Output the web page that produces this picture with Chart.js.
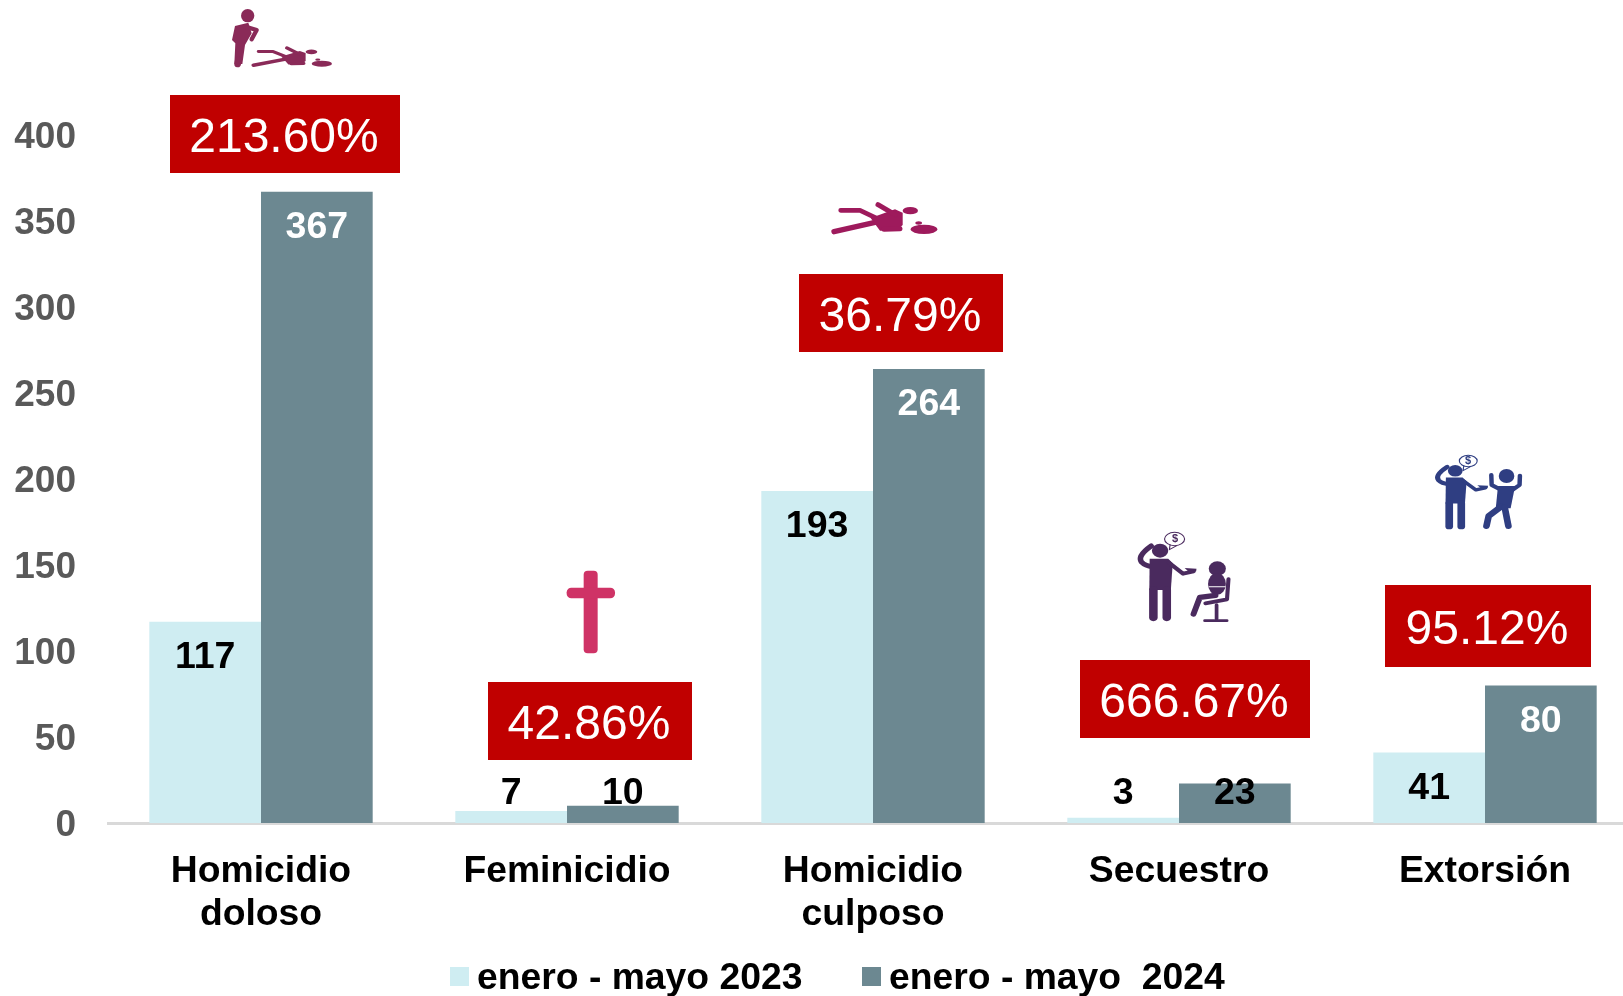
<!DOCTYPE html>
<html lang="es">
<head>
<meta charset="utf-8">
<title>Delitos enero - mayo</title>
<script src="https://cdn.jsdelivr.net/npm/chart.js@4"></script>
<style>
html,body{margin:0;padding:0;background:#fff;overflow:hidden;width:1623px;height:996px}
#wrap{width:1623px;height:996px;overflow:hidden;position:relative}
canvas{display:block}
</style>
</head>
<body>
<div id="wrap"><canvas id="c" width="1640" height="996"></canvas></div>
<script>
// ---- data ----
const categories = [["Homicidio","doloso"],["Feminicidio"],["Homicidio","culposo"],["Secuestro"],["Extorsión"]];
const seriesNames = ["enero - mayo 2023","enero - mayo  2024"];
const values2023 = [117,7,193,3,41];
const values2024 = [367,10,264,23,80];
const changeLabels = ["213.60%","42.86%","36.79%","666.67%","95.12%"];

// ---- styling / annotation layout (not data) ----
const FONT = '"Liberation Sans", Arial, sans-serif';
const colorLight = "#CFEDF2", colorDark = "#6C8891";
const labelColors2023 = ["#000","#000","#000","#000","#000"];
const labelColors2024 = ["#fff","#000","#fff","#000","#fff"];
const calloutBoxes = [[170,95,230,78],[488,682,204,78],[799,274,204,78],[1080,660,230,78],[1385,585,206,82]];
const legendLayout = [{box:450,text:477},{box:862,text:889}];

function value(chart){
  const ctx = chart.ctx;
  ctx.save();
  ctx.font = "bold 37.5px " + FONT;
  ctx.textAlign = "center";
  ctx.textBaseline = "middle";
  [[0,labelColors2023],[1,labelColors2024]].forEach(([d,cols])=>{
    chart.getDatasetMeta(d).data.forEach((bar,i)=>{
      ctx.fillStyle = cols[i];
      ctx.fillText(String(chart.data.datasets[d].data[i]), bar.x, Math.min(bar.y + 36, 794));
    });
  });
  ctx.restore();
}
function callouts(chart){
  const ctx = chart.ctx;
  ctx.save();
  calloutBoxes.forEach((b,i)=>{
    ctx.fillStyle = "#C00000";
    ctx.fillRect(b[0],b[1],b[2],b[3]);
    ctx.fillStyle = "#fff";
    ctx.font = "48px " + FONT;
    ctx.textAlign = "center";
    ctx.textBaseline = "middle";
    ctx.fillText(changeLabels[i], b[0]+b[2]/2-1, b[1]+b[3]/2+5);
  });
  ctx.restore();
}
function drawLegend(chart){
  const ctx = chart.ctx;
  ctx.save();
  ctx.font = "bold 37.3px " + FONT;
  ctx.textBaseline = "middle";
  ctx.textAlign = "left";
  chart.data.datasets.forEach((ds,i)=>{
    const l = legendLayout[i];
    ctx.fillStyle = ds.backgroundColor;
    ctx.fillRect(l.box,967,19,19);
    ctx.fillStyle = "#000";
    ctx.fillText(ds.label,l.text,979);
  });
  ctx.restore();
}
// ---- pictograms ----
function stroke(ctx,pts,w){
  ctx.lineWidth=w;ctx.lineCap="round";ctx.lineJoin="round";
  ctx.beginPath();pts.forEach((p,i)=>i?ctx.lineTo(p[0],p[1]):ctx.moveTo(p[0],p[1]));ctx.stroke();
}
function poly(ctx,pts){ctx.beginPath();pts.forEach((p,i)=>i?ctx.lineTo(p[0],p[1]):ctx.moveTo(p[0],p[1]));ctx.closePath();ctx.fill();}
function ell(ctx,x,y,rx,ry){ctx.beginPath();ctx.ellipse(x,y,rx,ry,0,0,7);ctx.fill();}
function lying(ctx){ // drawn in the coordinates of a 3x crop
  stroke(ctx,[[162,155],[325,118]],16);
  stroke(ctx,[[182,91],[240,91],[305,122]],14);
  poly(ctx,[[272,114],[345,88],[368,98],[368,135],[350,152],[300,152]]);
  stroke(ctx,[[294,74],[345,104]],15);
  stroke(ctx,[[312,148],[360,146]],15);
  ell(ctx,391,92,23,11);
  ell(ctx,432,148,40,14);
  ell(ctx,416,129,10,5);
}
function bubble(ctx,x,y,rx,ry,color){
  ctx.strokeStyle=color;ctx.lineWidth=3;ctx.lineCap="round";
  ctx.beginPath();ctx.ellipse(x,y,rx,ry,0,0,7);ctx.stroke();
  ctx.beginPath();ctx.moveTo(x-12,y+ry-3);ctx.lineTo(x-14,y+ry+12);ctx.lineTo(x+6,y+ry);ctx.stroke();
}
function man(ctx,x){ // standing man with phone and pistol
  ell(ctx,x,362,22,21);
  ctx.beginPath();ctx.lineWidth=15;ctx.lineCap="round";
  ctx.moveTo(x-24,348);ctx.quadraticCurveTo(x-62,378,x-50,396);ctx.quadraticCurveTo(x-40,408,x-20,410);ctx.stroke();
  poly(ctx,[[x-28,386],[x+22,386],[x+34,400],[x+29,480],[x-29,480]]);
  stroke(ctx,[[x-18,480],[x-18,562]],23);
  stroke(ctx,[[x+18,480],[x+18,562]],23);
  stroke(ctx,[[x+24,398],[x+62,431],[x+90,424]],12);
  poly(ctx,[[x+66,414],[x+98,416],[x+97,424],[x+80,428]]);
}
const iconsPlugin = {
  id:"annotations",
  afterDatasetsDraw(chart){
    const ctx = chart.ctx;
    value(chart);
    callouts(chart);
    drawLegend(chart);

    // Homicidio doloso
    ctx.save();
    ctx.scale(1/3,1/3);
    ctx.fillStyle=ctx.strokeStyle="#8A2A58";
    ell(ctx,743,47,20,20);
    poly(ctx,[[705,78],[745,68],[755,100],[735,135],[727,192],[703,192],[706,130],[696,120]]);
    stroke(ctx,[[735,80],[770,90],[755,118]],13);
    stroke(ctx,[[715,180],[713,192]],20);
    ctx.translate(755,140);ctx.scale(.76,.64);ctx.translate(-155,-68);
    lying(ctx);
    ctx.restore();

    // Feminicidio
    ctx.save();
    ctx.translate(420,540);ctx.scale(1/3,1/3);
    ctx.fillStyle="#CF3366";
    ctx.beginPath();ctx.roundRect(491,92,42,248,12);ctx.fill();
    ctx.beginPath();ctx.roundRect(440,143,145,32,14);ctx.fill();
    ctx.restore();

    // Homicidio culposo
    ctx.save();
    ctx.translate(780,180);ctx.scale(1/3,1/3);
    ctx.fillStyle=ctx.strokeStyle="#9E1A5C";
    lying(ctx);
    ctx.restore();

    // Secuestro
    ctx.save();
    ctx.translate(1040,430);ctx.scale(1/2.69,1/3);
    ctx.fillStyle=ctx.strokeStyle="#4A2A5E";
    man(ctx,323);
    ell(ctx,477,416,23,22);
    ell(ctx,476,462,24,33);
    stroke(ctx,[[507,447],[503,508],[445,520]],11);
    stroke(ctx,[[472,496],[430,502],[413,552]],16);
    stroke(ctx,[[475,525],[475,566]],10);
    stroke(ctx,[[443,572],[503,572]],8);
    ctx.strokeStyle="#fff";stroke(ctx,[[455,470],[498,470]],3);
    ctx.strokeStyle="#4A2A5E";
    bubble(ctx,362,327,27,20,"#4A2A5E");
    ctx.restore();

    // Extorsión
    ctx.save();
    ctx.translate(1040,430);ctx.scale(1/2.69,1/3);
    ctx.fillStyle=ctx.strokeStyle="#2F3E82";
    ctx.save();
    ctx.translate(1117,105);ctx.scale(.9,.83);ctx.translate(-323,-341);
    man(ctx,323);
    ctx.restore();
    ell(ctx,1255,138,21,21);
    stroke(ctx,[[1214,135],[1215,165],[1245,182]],12);
    stroke(ctx,[[1291,137],[1290,165],[1268,182]],12);
    poly(ctx,[[1232,168],[1278,168],[1266,235],[1226,235]]);
    stroke(ctx,[[1240,230],[1207,258],[1201,288]],18);
    stroke(ctx,[[1250,232],[1260,288]],18);
    bubble(ctx,1152,93,24,17,"#2F3E82");
    ctx.restore();

    // currency signs inside the speech bubbles
    ctx.save();
    ctx.textAlign="center";ctx.textBaseline="middle";
    ctx.font="bold 11px "+FONT;
    ctx.fillStyle="#4A2A5E";ctx.fillText("$",1175,539);
    ctx.fillStyle="#2F3E82";ctx.fillText("$",1468,461);
    ctx.restore();
  }
};

Chart.defaults.font.family = FONT;
new Chart(document.getElementById("c"),{
  type:"bar",
  data:{
    labels:categories,
    datasets:[
      {label:seriesNames[0],data:values2023,backgroundColor:colorLight,categoryPercentage:.73,barPercentage:1},
      {label:seriesNames[1],data:values2024,backgroundColor:colorDark,categoryPercentage:.73,barPercentage:1}
    ]
  },
  plugins:[iconsPlugin],
  options:{
    responsive:false,
    animation:false,
    layout:{padding:{top:135,left:0,right:2,bottom:0}},
    plugins:{legend:{display:false},tooltip:{enabled:false},title:{display:false}},
    scales:{
      x:{
        grid:{display:false,drawTicks:false},
        border:{display:true,color:"#D9D9D9",width:3},
        ticks:{color:"#000",padding:27,maxRotation:0,autoSkip:false,font:{size:37.3,weight:"bold",lineHeight:1.16}},
        afterFit(s){s.height=173;}
      },
      y:{
        min:0,max:400,
        grid:{display:false,drawTicks:false},
        border:{display:false},
        ticks:{stepSize:50,color:"#595959",padding:32,font:{size:37,weight:"bold"}},
        afterFit(s){
          s.width=108;
          if(!s._shifted){ // nudge the tick text down to sit where the reference has it
            s._shifted=true;
            const orig=s._computeLabelItems.bind(s);
            s._computeLabelItems=function(area){
              const items=orig(area);
              items.forEach(it=>{it.options.translation=[it.options.translation[0],it.options.translation[1]+3];});
              return items;
            };
          }
        }
      }
    }
  }
});
</script>
</body>
</html>
